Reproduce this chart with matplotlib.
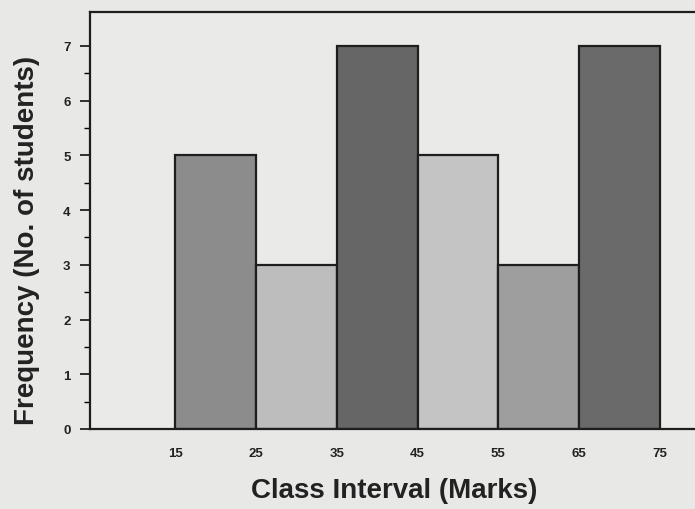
import matplotlib
matplotlib.use("Agg")
import matplotlib.pyplot as plt
import numpy as np

# Data
class_edges = [15, 25, 35, 45, 55, 65, 75]
frequencies = [5, 3, 7, 5, 3, 7]
tick_labels = ["15", "25", "35", "45", "55", "65", "75"]
bar_colors = ["#8c8c8c", "#bdbdbd", "#666666", "#c4c4c4", "#9e9e9e", "#6a6a6a"]

plt.rcParams['font.family'] = ['Liberation Sans', 'DejaVu Sans']

fig = plt.figure(figsize=(6.95, 5.10), dpi=100)
fig.patch.set_facecolor("#e8e8e6")
ax = fig.add_axes([90/695, 80/510, 1 - 90/695 + 0.01, (430 - 13)/510])
ax.set_facecolor("#eaeae8")

lefts = class_edges[:-1]
widths = np.diff(class_edges)
ax.bar(lefts, frequencies, width=widths, align='edge', color=bar_colors,
       edgecolor="#1e1e1e", linewidth=1.6)

ax.set_xlim(4.44, 80.2)
ax.set_ylim(0, 7.62)

ax.set_yticks(range(0, 8))
ax.set_yticks(np.arange(0.5, 7.5, 1.0), minor=True)
ax.tick_params(axis='y', which='major', length=7, width=1.3, direction='out',
               labelsize=9.5, pad=7, colors="#222222")
ax.tick_params(axis='y', which='minor', length=4, width=1.0, direction='out')
for lbl in ax.get_yticklabels():
    lbl.set_fontweight('bold')

ax.set_xticks(class_edges)
ax.set_xticklabels(tick_labels, fontsize=9.5, fontweight='bold', color="#222222")
ax.tick_params(axis='x', length=0, pad=13)

for side in ['left', 'bottom', 'top']:
    ax.spines[side].set_linewidth(1.6)
    ax.spines[side].set_color("#1e1e1e")
ax.spines['right'].set_visible(False)

ax.set_ylabel("Frequency (No. of students)", fontsize=20, fontweight='bold',
              color="#222222")
ax.set_xlabel("Class Interval (Marks)", fontsize=20, fontweight='bold',
              color="#222222")
ax_w = 695 * (1 - 90/695 + 0.01)
ax.yaxis.set_label_coords((27 - 90) / ax_w, (430 - 240) / 417)
ax.xaxis.set_label_coords((394 - 90) / ax_w, (430 - 491) / 417)
ax.yaxis.label.set_verticalalignment('center')
ax.xaxis.label.set_verticalalignment('center')

fig.savefig("out.png", dpi=100, facecolor=fig.get_facecolor())
